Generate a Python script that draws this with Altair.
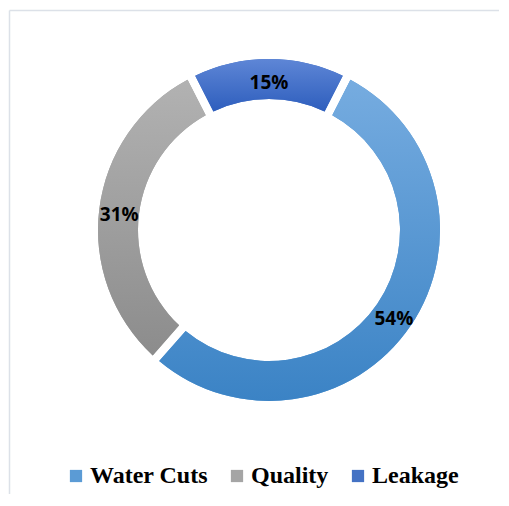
import math
import altair as alt
import pandas as pd

categories = ["Water Cuts", "Quality", "Leakage"]
values = [54, 31, 15]
solid_colors = ["#5B9BD5", "#A5A5A5", "#4472C4"]
grad_top = ["#76ACE0", "#B2B2B2", "#5E86D6"]
grad_bottom = ["#3B83C5", "#8C8C8C", "#2E5EBD"]

df = pd.DataFrame({"category": categories, "value": values, "idx": list(range(len(categories)))})

W, H = 490, 486
CX, CY = 260, 222
R_OUT, R_IN = 171, 131
A0 = math.radians(27)

theta_scale = alt.Scale(domain=[0, 100], range=[A0, A0 + 2 * math.pi])

base = alt.Chart(df).transform_window(
    cum="sum(value)", sort=[alt.SortField("idx")], frame=[None, 0]
).transform_calculate(
    start="datum.cum - datum.value",
    end="datum.cum",
    mid="datum.cum - datum.value / 2",
    label="datum.value + '%'",
)

arc_kw = dict(outerRadius=R_OUT, innerRadius=R_IN, padAngle=0.04)

solid = base.mark_arc(**arc_kw).encode(
    x=alt.value(CX), y=alt.value(CY),
    theta=alt.Theta("start:Q", scale=theta_scale),
    theta2="end:Q",
    color=alt.Color(
        "category:N",
        scale=alt.Scale(domain=categories, range=solid_colors),
        sort=categories,
        legend=alt.Legend(
            title=None, orient="none", direction="horizontal",
            legendX=55, legendY=456,
            symbolType="square", symbolSize=150, symbolStrokeWidth=0,
            labelFont="Liberation Serif", labelFontWeight="bold", labelFontSize=24,
            labelColor="#000000", labelOffset=2, columnPadding=17,
        ),
    ),
)

layers = [solid]
for cat, top, bot in zip(categories, grad_top, grad_bottom):
    g = alt.Gradient(
        gradient="linear",
        stops=[alt.GradientStop(color=top, offset=0), alt.GradientStop(color=bot, offset=1)],
        x1=0, x2=0, y1=0, y2=1,
    )
    layers.append(
        base.transform_filter(alt.datum.category == cat).mark_arc(color=g, **arc_kw).encode(
            x=alt.value(CX), y=alt.value(CY),
            theta=alt.Theta("start:Q", scale=theta_scale),
            theta2="end:Q",
        )
    )

labels = base.mark_text(
    font="Open Sans", fontWeight="bold", fontSize=19, color="#000000",
    align="center", baseline="middle", dy=4,
).encode(
    x=alt.value(CX), y=alt.value(CY),
    theta=alt.Theta("mid:Q", scale=theta_scale),
    radius=alt.value(151),
    text="label:N",
)

frame_data = alt.Data(values=[{"k": 1}])
left_line = alt.Chart(frame_data).mark_rule(color="#DCE1E8", strokeWidth=1.5).encode(
    x=alt.value(0.5), y=alt.value(2.5), y2=alt.value(H)
)
top_line = alt.Chart(frame_data).mark_rule(color="#DCE1E8", strokeWidth=1.5).encode(
    x=alt.value(0.5), x2=alt.value(W), y=alt.value(2.5)
)

chart = alt.layer(*layers, labels, left_line, top_line).properties(
    width=W, height=H, padding=0
).configure_view(stroke="transparent", strokeWidth=0).configure_axis(grid=False)

chart.save("out.html", embed_options={"renderer": "svg", "actions": False})
